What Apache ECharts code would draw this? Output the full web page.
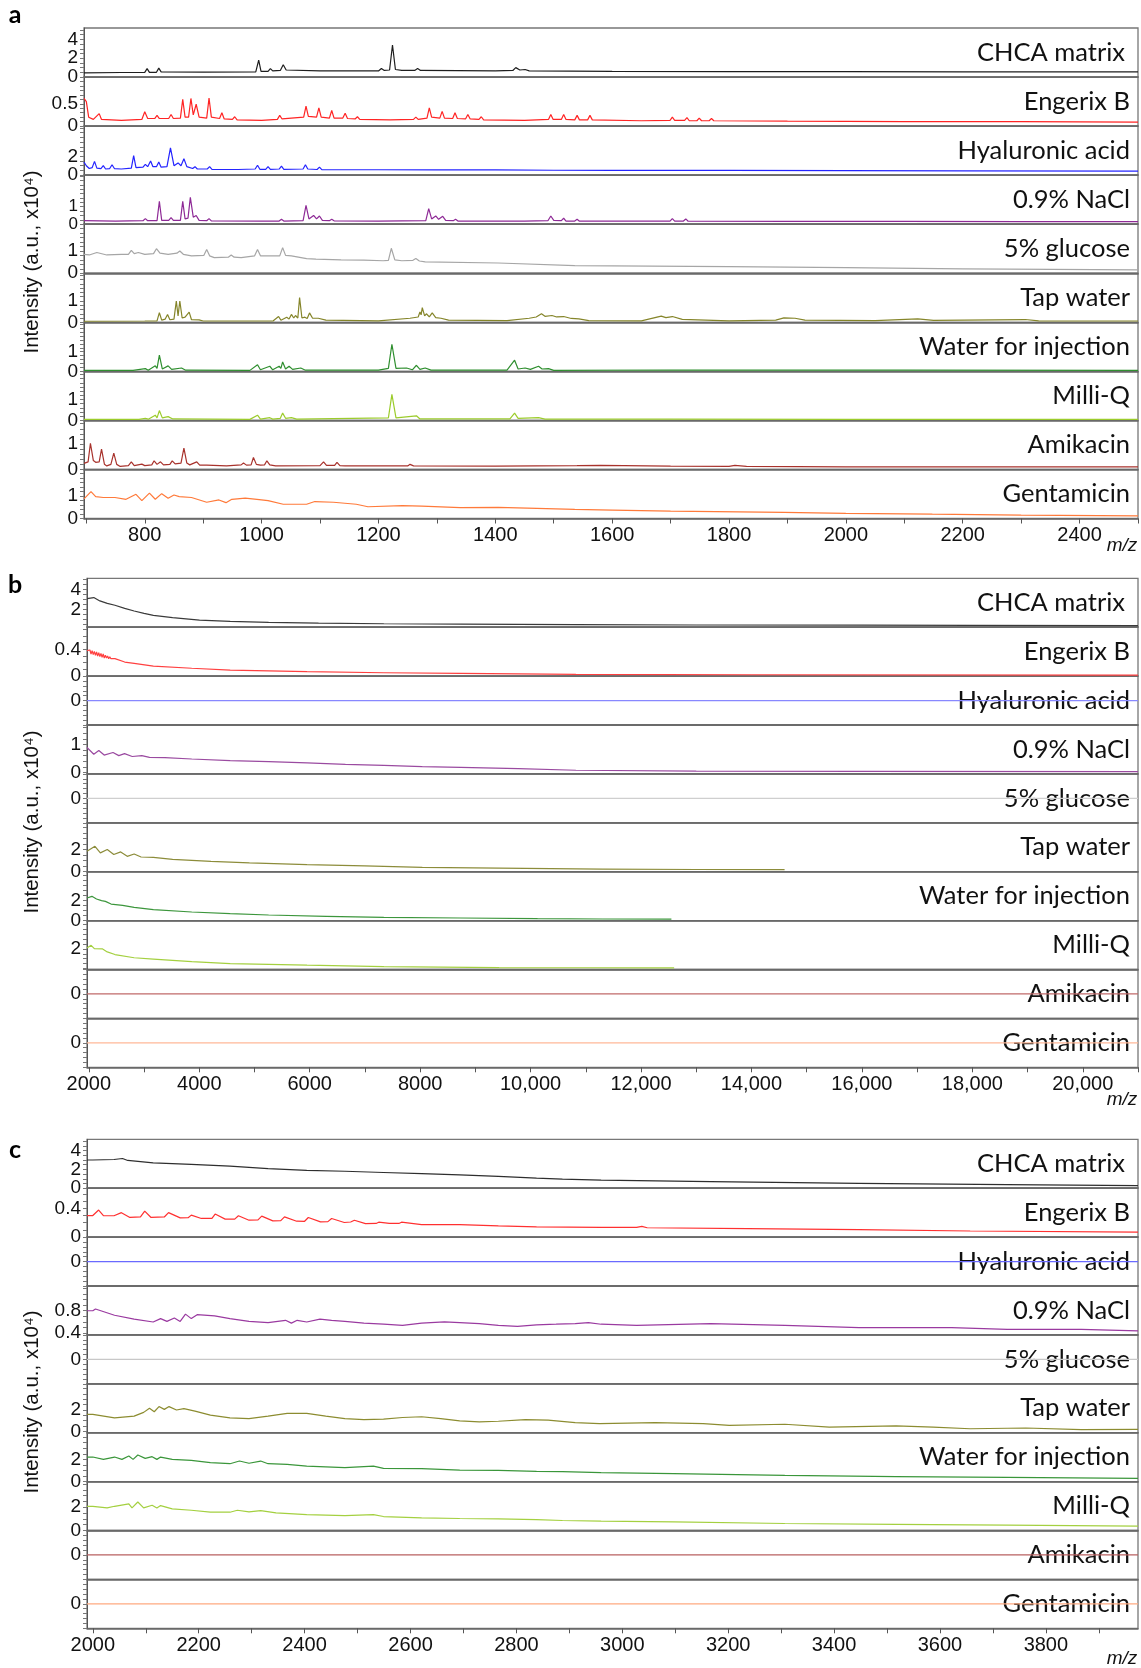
<!DOCTYPE html>
<html><head><meta charset="utf-8">
<script src="https://cdn.jsdelivr.net/npm/echarts@6/dist/echarts.min.js"></script>
<style>html,body{margin:0;padding:0;background:#fff}#c{width:1141px;height:1668px}</style>
</head><body><div id="c"></div>
<script>
// ---------------- DATA (intensity in a.u. x10^4, x = m/z) ----------------
const SAMPLES = ['CHCA matrix','Engerix B','Hyaluronic acid','0.9% NaCl','5% glucose','Tap water','Water for injection','Milli-Q','Amikacin','Gentamicin'];

// x-axis ticks and labels
const XTICKS_A = [700,800,900,1000,1100,1200,1300,1400,1500,1600,1700,1800,1900,2000,2100,2200,2300,2400,2500];
const XLABELS_A = [800,1000,1200,1400,1600,1800,2000,2200,2400];
const XTICKS_B = [2000,3000,4000,5000,6000,7000,8000,9000,10000,11000,12000,13000,14000,15000,16000,17000,18000,19000,20000,21000];
const XLABELS_B = [2000,4000,6000,8000,10000,12000,14000,16000,18000,20000];
const XTICKS_C = [2000,2100,2200,2300,2400,2500,2600,2700,2800,2900,3000,3100,3200,3300,3400,3500,3600,3700,3800,3900];
const XLABELS_C = [2000,2200,2400,2600,2800,3000,3200,3400,3600,3800];

// y-axis tick labels per subplot
const YLABELS_A = [[0,2,4],[0,0.5],[0,2],[0,1],[0,1],[0,1],[0,1],[0,1],[0,1],[0,1]];
const YLABELS_B = [[2,4],[0,0.4],[0],[0,1],[0],[0,2],[0,2],[2],[0],[0]];
const YLABELS_C = [[0,2,4],[0,0.4],[0],[0.4,0.8],[0],[0,2],[0,2],[0,2],[0],[0]];

// panel a: 695-2500
const A_CHCA = [[696,0.45],[760,0.48],[800,0.5],[804,0.9],[808,0.5],[820,0.5],[824,0.95],[828,0.55],[900,0.52],[990,0.55],[995,1.8],[999,0.6],[1011,0.6],[1015,0.9],[1019,0.65],[1032,0.7],[1037,1.3],[1042,0.75],[1100,0.65],[1200,0.65],[1205,0.9],[1210,0.7],[1219,0.75],[1224,3.4],[1229,0.8],[1240,0.7],[1262,0.7],[1267,0.9],[1272,0.7],[1400,0.65],[1430,0.7],[1435,1.0],[1442,0.75],[1451,0.8],[1458,0.65],[1600,0.6],[1800,0.58],[2000,0.57],[2200,0.55],[2500,0.55]];
const A_ENGERIX = [[696,0.62],[700,0.55],[704,0.2],[712,0.15],[722,0.28],[726,0.15],[760,0.13],[795,0.15],[800,0.32],[805,0.17],[817,0.17],[821,0.24],[825,0.17],[841,0.17],[845,0.26],[849,0.17],[861,0.18],[865,0.6],[869,0.2],[875,0.2],[879,0.62],[883,0.25],[888,0.49],[893,0.2],[906,0.18],[910,0.63],[914,0.2],[928,0.17],[932,0.3],[936,0.16],[950,0.15],[954,0.21],[958,0.14],[1000,0.13],[1027,0.15],[1031,0.24],[1035,0.16],[1072,0.2],[1076,0.45],[1080,0.22],[1094,0.2],[1098,0.41],[1102,0.2],[1116,0.18],[1120,0.35],[1124,0.18],[1139,0.18],[1143,0.29],[1147,0.17],[1160,0.16],[1164,0.21],[1168,0.15],[1220,0.14],[1260,0.15],[1264,0.2],[1268,0.15],[1283,0.18],[1287,0.41],[1291,0.2],[1305,0.18],[1309,0.33],[1313,0.18],[1327,0.17],[1331,0.3],[1335,0.17],[1349,0.16],[1353,0.26],[1357,0.16],[1372,0.15],[1376,0.21],[1380,0.14],[1450,0.13],[1491,0.15],[1495,0.26],[1499,0.15],[1513,0.15],[1517,0.26],[1521,0.15],[1536,0.14],[1540,0.24],[1544,0.14],[1558,0.14],[1562,0.24],[1566,0.14],[1650,0.12],[1699,0.13],[1703,0.2],[1707,0.13],[1724,0.13],[1728,0.19],[1732,0.12],[1745,0.12],[1749,0.18],[1753,0.12],[1766,0.12],[1770,0.17],[1774,0.12],[1900,0.11],[2100,0.1],[2300,0.1],[2500,0.09]];
const A_HYALURONIC = [[696,1.4],[700,1.0],[705,0.7],[710,0.8],[714,1.46],[718,0.75],[725,0.7],[729,1.0],[733,0.65],[740,0.7],[744,1.1],[748,0.7],[760,0.65],[777,0.75],[781,2.07],[785,0.8],[797,0.85],[801,1.15],[805,0.9],[810,1.5],[814,0.9],[820,0.9],[824,1.4],[828,0.85],[838,0.9],[844,2.9],[850,1.0],[857,1.3],[862,1.0],[867,1.73],[872,0.9],[882,0.7],[886,0.9],[890,0.65],[907,0.65],[911,0.9],[915,0.62],[960,0.6],[989,0.65],[993,1.05],[997,0.62],[1007,0.62],[1011,0.9],[1015,0.62],[1030,0.65],[1034,0.95],[1038,0.62],[1071,0.65],[1075,1.1],[1079,0.65],[1095,0.6],[1099,0.85],[1103,0.58],[1200,0.57],[1300,0.56],[1400,0.55],[1500,0.52],[1600,0.5],[1800,0.5],[2000,0.48],[2200,0.45],[2500,0.43]];
const A_NACL = [[696,0.2],[750,0.18],[797,0.2],[801,0.32],[805,0.2],[821,0.2],[825,1.3],[829,0.22],[841,0.22],[845,0.38],[849,0.22],[861,0.22],[865,1.3],[869,0.3],[874,0.35],[878,1.53],[883,0.4],[888,0.5],[893,0.22],[906,0.2],[910,0.32],[914,0.19],[1000,0.17],[1030,0.18],[1034,0.28],[1038,0.18],[1071,0.2],[1076,1.07],[1081,0.3],[1089,0.5],[1094,0.3],[1099,0.47],[1104,0.22],[1116,0.2],[1120,0.28],[1124,0.19],[1200,0.17],[1281,0.2],[1286,0.89],[1291,0.3],[1298,0.47],[1303,0.28],[1310,0.45],[1315,0.22],[1328,0.2],[1332,0.28],[1336,0.18],[1450,0.17],[1490,0.2],[1495,0.47],[1500,0.22],[1513,0.2],[1517,0.34],[1521,0.18],[1536,0.18],[1540,0.28],[1544,0.17],[1650,0.17],[1699,0.18],[1703,0.32],[1707,0.18],[1722,0.18],[1726,0.3],[1730,0.17],[1900,0.16],[2100,0.16],[2300,0.15],[2500,0.15]];
const A_GLUCOSE = [[696,0.85],[705,0.82],[718,0.93],[735,0.82],[760,0.85],[772,0.85],[777,1.03],[782,0.88],[789,0.93],[800,0.85],[815,0.88],[820,1.1],[826,0.9],[840,0.85],[855,0.9],[860,1.0],[866,0.85],[880,0.78],[901,0.8],[906,1.07],[911,0.78],[919,0.7],[943,0.72],[948,0.82],[953,0.72],[965,0.7],[988,0.78],[993,1.07],[998,0.78],[1011,0.78],[1031,0.78],[1036,1.15],[1041,0.8],[1051,0.78],[1077,0.66],[1093,0.63],[1136,0.6],[1175,0.59],[1208,0.56],[1217,0.58],[1222,1.12],[1228,0.6],[1240,0.56],[1259,0.58],[1264,0.66],[1270,0.55],[1280,0.51],[1405,0.46],[1536,0.34],[1600,0.33],[1800,0.3],[2000,0.25],[2200,0.2],[2500,0.15]];
const A_TAP = [[696,0.05],[800,0.06],[821,0.07],[825,0.45],[829,0.1],[835,0.15],[839,0.37],[843,0.12],[850,0.15],[854,1.0],[857,0.3],[860,1.0],[864,0.2],[869,0.24],[872,0.15],[876,0.48],[880,0.12],[893,0.11],[900,0.06],[1020,0.07],[1029,0.27],[1033,0.1],[1043,0.24],[1047,0.15],[1051,0.37],[1055,0.2],[1058,0.32],[1062,0.2],[1065,1.16],[1069,0.2],[1074,0.24],[1078,0.18],[1082,0.44],[1087,0.2],[1097,0.19],[1110,0.1],[1200,0.07],[1254,0.19],[1268,0.25],[1271,0.48],[1273,0.35],[1275,0.69],[1279,0.3],[1282,0.4],[1287,0.25],[1292,0.44],[1298,0.22],[1307,0.19],[1320,0.1],[1420,0.08],[1458,0.19],[1470,0.25],[1479,0.4],[1485,0.28],[1497,0.32],[1505,0.25],[1517,0.27],[1530,0.18],[1543,0.16],[1560,0.08],[1650,0.07],[1684,0.29],[1692,0.22],[1703,0.27],[1720,0.14],[1800,0.07],[1880,0.1],[1894,0.21],[1913,0.19],[1930,0.1],[2050,0.08],[2123,0.16],[2150,0.09],[2307,0.13],[2330,0.07],[2500,0.06]];
const A_WFI = [[696,0.05],[780,0.05],[801,0.14],[806,0.06],[818,0.28],[821,0.15],[825,0.83],[830,0.12],[840,0.28],[846,0.1],[863,0.17],[870,0.06],[980,0.05],[993,0.34],[998,0.08],[1014,0.26],[1019,0.08],[1030,0.26],[1033,0.15],[1036,0.48],[1041,0.12],[1047,0.26],[1053,0.1],[1067,0.17],[1075,0.06],[1200,0.06],[1217,0.15],[1223,1.38],[1230,0.15],[1248,0.17],[1258,0.08],[1265,0.31],[1271,0.1],[1280,0.17],[1290,0.06],[1420,0.06],[1433,0.57],[1439,0.12],[1451,0.17],[1460,0.1],[1474,0.26],[1480,0.12],[1491,0.14],[1500,0.05],[1700,0.07],[1900,0.06],[2100,0.06],[2500,0.05]];
const A_MILLIQ = [[696,0.05],[790,0.05],[801,0.1],[806,0.06],[818,0.25],[821,0.12],[825,0.47],[830,0.12],[840,0.18],[848,0.07],[980,0.05],[993,0.25],[998,0.06],[1014,0.13],[1019,0.06],[1032,0.1],[1036,0.35],[1041,0.1],[1051,0.13],[1060,0.06],[1217,0.12],[1223,1.25],[1230,0.12],[1265,0.22],[1271,0.07],[1425,0.07],[1433,0.35],[1439,0.1],[1474,0.13],[1485,0.06],[1700,0.06],[2000,0.05],[2500,0.05]];
const A_AMIKACIN = [[696,0.24],[703,0.3],[707,1.03],[712,0.35],[716,0.28],[722,0.3],[726,0.8],[731,0.2],[735,0.14],[742,0.2],[747,0.64],[752,0.2],[758,0.12],[772,0.15],[777,0.3],[782,0.15],[795,0.21],[800,0.15],[812,0.18],[816,0.34],[821,0.2],[827,0.3],[832,0.18],[843,0.2],[847,0.34],[852,0.22],[862,0.25],[867,0.84],[872,0.25],[877,0.18],[889,0.3],[894,0.17],[906,0.17],[940,0.14],[965,0.18],[969,0.25],[974,0.17],[982,0.18],[986,0.47],[991,0.2],[998,0.17],[1005,0.18],[1009,0.34],[1014,0.18],[1024,0.14],[1100,0.15],[1106,0.3],[1111,0.16],[1125,0.16],[1129,0.28],[1134,0.15],[1143,0.14],[1250,0.14],[1254,0.2],[1260,0.14],[1400,0.13],[1540,0.15],[1580,0.16],[1700,0.13],[1800,0.12],[1810,0.16],[1830,0.12],[2000,0.1],[2500,0.1]];
const A_GENTAMICIN = [[696,0.87],[708,1.19],[716,0.97],[729,0.93],[749,0.93],[768,0.85],[785,1.07],[795,0.79],[808,1.12],[818,0.85],[829,1.1],[840,0.9],[850,1.04],[859,0.97],[880,0.93],[906,0.72],[927,0.82],[939,0.7],[949,0.85],[972,0.9],[992,0.85],[1011,0.79],[1037,0.63],[1077,0.63],[1091,0.75],[1123,0.72],[1162,0.63],[1182,0.52],[1241,0.57],[1274,0.55],[1340,0.48],[1405,0.49],[1471,0.45],[1536,0.4],[1600,0.37],[1700,0.33],[1894,0.27],[2000,0.23],[2148,0.19],[2300,0.15],[2500,0.12]];

// panel b: 2000-21000
const B_CHCA = [[1967,3.09],[2000,3.1],[2090,3.19],[2200,2.85],[2334,2.6],[2473,2.41],[2650,2.1],[2821,1.83],[3000,1.6],[3169,1.39],[3517,1.16],[4004,0.92],[4560,0.78],[5256,0.68],[6160,0.61],[7343,0.55],[8734,0.51],[10821,0.45],[13000,0.42],[16000,0.4],[18000,0.38],[21000,0.36]];
const B_ENGERIX = [[1967,0.38],[2000,0.36],[2020,0.39],[2040,0.33],[2060,0.38],[2080,0.32],[2100,0.37],[2120,0.31],[2140,0.36],[2160,0.3],[2180,0.35],[2200,0.29],[2220,0.34],[2240,0.28],[2260,0.33],[2280,0.27],[2300,0.31],[2320,0.27],[2340,0.3],[2360,0.26],[2380,0.29],[2400,0.26],[2473,0.26],[2650,0.21],[2821,0.19],[3169,0.15],[3864,0.117],[4560,0.09],[5952,0.066],[7343,0.05],[8734,0.04],[10821,0.025],[14000,0.02],[21000,0.015]];
const B_HYALURONIC = [[1967,0],[21000,0]];
const B_NACL = [[1967,0.89],[2000,0.88],[2090,0.65],[2181,0.78],[2278,0.62],[2438,0.71],[2543,0.6],[2647,0.67],[2786,0.57],[2960,0.6],[3099,0.54],[3377,0.53],[3864,0.48],[4560,0.42],[5256,0.39],[5952,0.34],[6647,0.29],[7343,0.25],[8039,0.21],[8734,0.18],[9778,0.14],[10821,0.08],[13000,0.05],[16000,0.04],[21000,0.03]];
const B_GLUCOSE = [[1967,0],[21000,0]];
const B_TAP = [[1967,1.85],[2000,1.8],[2111,2.3],[2209,1.7],[2334,2.0],[2452,1.55],[2577,1.79],[2696,1.39],[2821,1.6],[2946,1.33],[3169,1.3],[3517,1.12],[4212,0.94],[4908,0.79],[5952,0.64],[6995,0.52],[8039,0.39],[9430,0.33],[11295,0.24],[13000,0.2],[14600,0.18]];
const B_WFI = [[1967,2.26],[2000,2.3],[2056,2.43],[2139,2.17],[2230,2.0],[2300,1.93],[2403,1.66],[2612,1.53],[2821,1.33],[3169,1.1],[3864,0.86],[4560,0.7],[5256,0.56],[6299,0.43],[7343,0.33],[8734,0.26],[10126,0.2],[11295,0.16],[12550,0.15]];
const B_MILLIQ = [[1967,2.1],[2000,2.15],[2042,2.37],[2100,2.03],[2250,2.0],[2334,1.7],[2473,1.43],[2821,1.1],[3169,0.97],[3864,0.7],[4560,0.5],[5952,0.34],[7343,0.2],[9430,0.1],[11000,0.08],[12600,0.07]];
const B_AMIKACIN = [[1967,0],[21000,0]];
const B_GENTAMICIN = [[1967,0],[21000,0]];

// panel c: 2000-3970
const C_CHCA = [[1989,3.0],[2000,3.0],[2040,3.05],[2056,3.16],[2066,2.95],[2114,2.7],[2186,2.53],[2259,2.35],[2331,2.08],[2404,1.9],[2476,1.8],[2549,1.67],[2621,1.56],[2693,1.42],[2766,1.25],[2838,1.07],[2887,0.96],[2960,0.86],[3167,0.69],[3447,0.52],[3727,0.38],[3974,0.27]];
const C_ENGERIX = [[1989,0.3],[2000,0.3],[2011,0.376],[2020,0.3],[2040,0.297],[2054,0.34],[2070,0.273],[2090,0.28],[2098,0.362],[2110,0.273],[2135,0.28],[2143,0.34],[2165,0.268],[2180,0.27],[2186,0.306],[2205,0.259],[2225,0.26],[2231,0.32],[2250,0.25],[2268,0.25],[2275,0.297],[2295,0.235],[2312,0.24],[2319,0.292],[2340,0.226],[2355,0.23],[2362,0.282],[2385,0.221],[2400,0.22],[2407,0.273],[2430,0.212],[2444,0.215],[2451,0.259],[2475,0.203],[2487,0.21],[2494,0.235],[2515,0.188],[2535,0.19],[2540,0.207],[2560,0.19],[2578,0.19],[2583,0.207],[2621,0.174],[2693,0.174],[2766,0.155],[2838,0.141],[2960,0.136],[3027,0.136],[3037,0.15],[3047,0.13],[3237,0.117],[3447,0.103],[3657,0.085],[3974,0.07]];
const C_HYALURONIC = [[1989,0],[3974,0]];
const C_NACL = [[1989,0.8],[2000,0.8],[2005,0.83],[2041,0.72],[2078,0.65],[2114,0.6],[2128,0.66],[2140,0.61],[2154,0.67],[2165,0.61],[2175,0.74],[2186,0.66],[2197,0.73],[2230,0.71],[2259,0.66],[2295,0.61],[2331,0.59],[2364,0.63],[2375,0.58],[2386,0.63],[2404,0.6],[2429,0.65],[2451,0.63],[2476,0.61],[2512,0.58],[2549,0.56],[2585,0.54],[2621,0.58],[2664,0.6],[2693,0.59],[2730,0.57],[2766,0.54],[2802,0.52],[2838,0.55],[2875,0.56],[2911,0.57],[2936,0.59],[2960,0.56],[3027,0.54],[3167,0.57],[3307,0.54],[3447,0.5],[3622,0.5],[3727,0.47],[3867,0.47],[3974,0.44]];
const C_GLUCOSE = [[1989,0],[3974,0]];
const C_TAP = [[1989,1.59],[2000,1.59],[2041,1.27],[2078,1.43],[2096,1.78],[2107,2.16],[2116,1.84],[2125,2.32],[2135,2.06],[2144,2.32],[2158,2.0],[2172,2.13],[2193,1.9],[2222,1.52],[2259,1.27],[2295,1.2],[2331,1.43],[2367,1.68],[2404,1.68],[2440,1.43],[2476,1.2],[2512,1.11],[2549,1.14],[2585,1.3],[2621,1.37],[2657,1.2],[2693,0.98],[2730,0.89],[2766,0.95],[2817,1.11],[2860,1.05],[2911,0.83],[2957,0.73],[3062,0.83],[3153,0.73],[3202,0.57],[3307,0.67],[3391,0.41],[3517,0.51],[3587,0.41],[3657,0.25],[3762,0.32],[3867,0.16],[3974,0.19]];
const C_WFI = [[1989,2.21],[2000,2.21],[2020,2.0],[2041,2.21],[2055,2.0],[2068,2.3],[2076,2.0],[2085,2.39],[2099,2.09],[2112,2.24],[2121,2.0],[2128,2.21],[2150,2.0],[2186,1.91],[2222,1.7],[2259,1.61],[2277,1.85],[2295,1.65],[2317,1.85],[2331,1.61],[2367,1.55],[2404,1.4],[2476,1.25],[2530,1.4],[2549,1.19],[2621,1.16],[2693,1.04],[2766,1.01],[2838,0.92],[2887,0.89],[2960,0.8],[3097,0.71],[3307,0.56],[3517,0.44],[3727,0.38],[3974,0.29]];
const C_MILLIQ = [[1989,2.08],[2000,2.08],[2027,1.94],[2041,2.08],[2068,2.28],[2074,1.94],[2085,2.45],[2096,1.94],[2112,2.17],[2121,1.94],[2128,2.14],[2150,1.86],[2186,1.74],[2222,1.57],[2259,1.57],[2273,1.74],[2295,1.6],[2317,1.71],[2346,1.51],[2404,1.37],[2476,1.28],[2530,1.37],[2549,1.2],[2621,1.08],[2693,1.03],[2766,1.0],[2838,0.94],[2887,0.86],[2960,0.8],[3097,0.74],[3307,0.6],[3517,0.52],[3727,0.46],[3974,0.37]];
const C_AMIKACIN = [[1989,0],[3974,0]];
const C_GENTAMICIN = [[1989,0],[3974,0]];

// ---------------- SCALES / STYLE ----------------
const YRANGE_A = [[0,5.2],[0,1.1],[0,5.2],[0,2.8],[0,2.2],[0,2.3],[0,2.5],[0,2.35],[0,1.93],[0,2.17]];
const YRANGE_B = [[0.2,5.13],[0,0.73],[-1,1],[-0.05,1.69],[-1,1],[0,4.42],[0,4.9],[-0.1,4.9],[-1,1],[-1,1]];
const YRANGE_C = [[0,5.2],[0,0.68],[-1,1],[0.37,1.24],[-1,1],[-0.12,4.45],[0,4.4],[0,4.2],[-1,1],[-1,1]];
const YSTEP_A = [0.5,0.1,0.5,0.25,0.2,0.2,0.2,0.2,0.2,0.2];
const YSTEP_B = [0.5,0.1,0.2,0.2,0.2,0.5,0.5,0.5,0.2,0.2];
const YSTEP_C = [0.5,0.1,0.2,0.1,0.2,0.5,0.5,0.5,0.2,0.2];
const COLORS_A = ['#1e1e1e','#ff2424','#2424ff','#8e2a96','#a6a6a6','#85852a','#2f8f2f','#9ccc2c','#a8322c','#ff7a3a'];
const COLORS_B = ['#3a3a3a','#ff4040','#8888ff','#9a4aa0','#cfcfcf','#8c8c3a','#3c963c','#a4d040','#c06a6a','#ffb898'];
const COLORS_C = ['#2e2e2e','#ff3030','#6a6aff','#9a3aa0','#c8c8c8','#8c8c30','#3a963a','#a4d040','#b86060','#ffaa80'];

const PANELS = [
  {letter:'a', top:28, step:49.05, left:84, right:1138, xMin:696, xMax:2500, xTicks:XTICKS_A, xLabels:XLABELS_A,
   yRanges:YRANGE_A, yLabels:YLABELS_A, ySteps:YSTEP_A, colors:COLORS_A, letterY:15, mzY:546, titleY:262,
   data:[A_CHCA,A_ENGERIX,A_HYALURONIC,A_NACL,A_GLUCOSE,A_TAP,A_WFI,A_MILLIQ,A_AMIKACIN,A_GENTAMICIN]},
  {letter:'b', top:578.3, step:48.9, left:87, right:1138, xMin:1967, xMax:21000, xTicks:XTICKS_B, xLabels:XLABELS_B,
   yRanges:YRANGE_B, yLabels:YLABELS_B, ySteps:YSTEP_B, colors:COLORS_B, letterY:585, mzY:1100, titleY:822,
   data:[B_CHCA,B_ENGERIX,B_HYALURONIC,B_NACL,B_GLUCOSE,B_TAP,B_WFI,B_MILLIQ,B_AMIKACIN,B_GENTAMICIN]},
  {letter:'c', top:1139.3, step:48.9, left:87, right:1138, xMin:1989, xMax:3974, xTicks:XTICKS_C, xLabels:XLABELS_C,
   yRanges:YRANGE_C, yLabels:YLABELS_C, ySteps:YSTEP_C, colors:COLORS_C, letterY:1150, mzY:1659, titleY:1402,
   data:[C_CHCA,C_ENGERIX,C_HYALURONIC,C_NACL,C_GLUCOSE,C_TAP,C_WFI,C_MILLIQ,C_AMIKACIN,C_GENTAMICIN]}
];

const AXIS_FONT = 'Liberation Sans, Arial, sans-serif';
const LABEL_FONT = 'Lato, "Open Sans", sans-serif';
const fmtX = v => v >= 10000 ? v.toLocaleString('en-US') : String(v);

const grids = [], xAxes = [], yAxes = [], series = [], graphics = [];
PANELS.forEach(p => {
  for (let i = 0; i < 10; i++) {
    const idx = grids.length;
    const top = p.top + i * p.step;
    const last = i === 9;
    grids.push({left:p.left, width:p.right - p.left, top:top, height:p.step, show:true,
      borderColor:'#777', borderWidth:1.3, backgroundColor:'rgba(0,0,0,0)'});
    xAxes.push({type:'value', gridIndex:idx, min:p.xMin, max:p.xMax,
      axisLine:{show:true, onZero:false, lineStyle:{color:'#666', width:1.5}},
      axisTick:{show:last, customValues:p.xTicks, length:5, lineStyle:{color:'#555'}},
      axisLabel:{show:last, customValues:p.xLabels, formatter:fmtX, fontSize:20, color:'#111', margin:7, fontFamily:AXIS_FONT,
                 hideOverlap:false},
      splitLine:{show:false}});
    const [ymin, ymax] = p.yRanges[i];
    const st = p.ySteps[i];
    const ticks = [];
    for (let k = Math.ceil(ymin / st - 1e-9); k * st <= ymax + 1e-9; k++) ticks.push(+(k * st).toFixed(4));
    // smallest pixel gap between neighbouring labels -> font small enough that none gets dropped
    const labs = p.yLabels[i];
    let gap = 99;
    for (let k = 1; k < labs.length; k++) gap = Math.min(gap, (labs[k] - labs[k - 1]) / (ymax - ymin) * p.step);
    const fs = gap < 18.5 ? 17 : 19;
    yAxes.push({type:'value', gridIndex:idx, min:ymin, max:ymax,
      axisLine:{show:true, onZero:false, lineStyle:{color:'#555', width:1}},
      axisTick:{show:true, customValues:ticks, length:4, lineStyle:{color:'#777'}},
      axisLabel:{show:true, customValues:labs, color:'#111', margin:6, fontSize:fs, fontFamily:AXIS_FONT,
                 formatter:v => String(v), hideOverlap:false, showMinLabel:true, showMaxLabel:true},
      splitLine:{show:false}});
    series.push({type:'line', xAxisIndex:idx, yAxisIndex:idx, data:p.data[i], showSymbol:false, symbol:'none',
      lineStyle:{width:1.2, color:p.colors[i]}, itemStyle:{color:p.colors[i]}, animation:false, silent:true, z:3});
    graphics.push({type:'text', x:(i === 0 ? 1125 : 1130), y:top + p.step / 2, z:1,
      style:{text:SAMPLES[i], font:'25.5px ' + LABEL_FONT, fill:'#111', align:'right', verticalAlign:'middle',
             textAlign:'right', textVerticalAlign:'middle'}});
  }
  graphics.push({type:'text', x:15, y:p.letterY, style:{text:p.letter, font:'bold 25px ' + LABEL_FONT, fill:'#000',
    align:'center', verticalAlign:'middle', textAlign:'center', textVerticalAlign:'middle'}});
  graphics.push({type:'text', x:1122, y:p.mzY, style:{text:'m/z', font:'italic 19px ' + AXIS_FONT, fill:'#111',
    align:'center', verticalAlign:'middle', textAlign:'center', textVerticalAlign:'middle'}});
  graphics.push({type:'text', x:32, y:p.titleY, rotation:Math.PI / 2, style:{text:'Intensity (a.u., x10⁴)', font:'20.5px ' + AXIS_FONT,
    fill:'#111', align:'center', verticalAlign:'middle', textAlign:'center', textVerticalAlign:'middle'}});
});

const chart = echarts.init(document.getElementById('c'), null, {renderer:'canvas', width:1141, height:1668});
chart.setOption({
  animation:false,
  backgroundColor:'#fff',
  grid:grids, xAxis:xAxes, yAxis:yAxes, series:series, graphic:graphics
});
</script>
</body></html>
